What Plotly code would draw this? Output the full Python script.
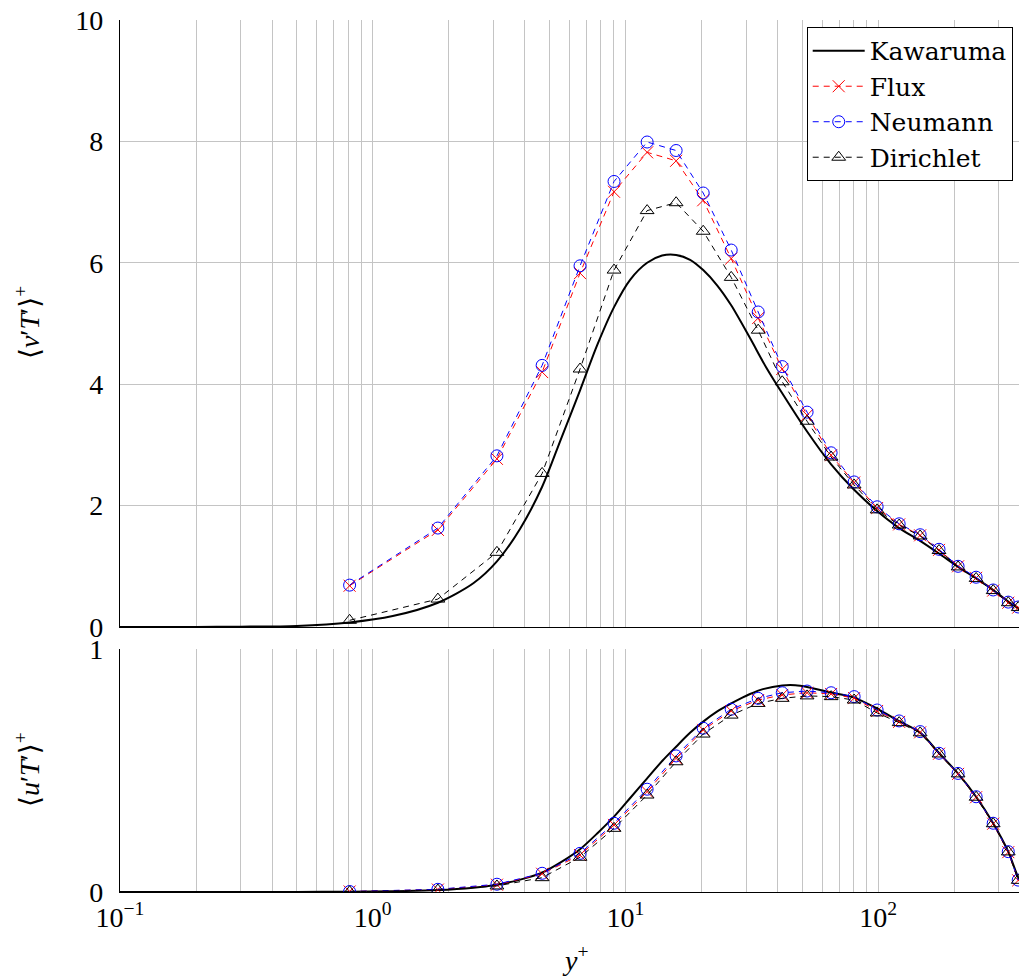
import plotly.graph_objects as go

# ---------------- data ----------------
# y+ of the simulation points
yplus = [0.81, 1.81, 3.10, 4.68, 6.61, 9.01, 12.18, 15.86, 20.3, 26.2, 33.5, 41.7,
         52.3, 65.1, 80.3, 99.0, 121, 146.5, 174, 207, 244, 285, 327, 358]

vT_flux = [0.68, 1.60, 2.77, 4.20, 5.83, 7.17, 7.82, 7.68, 7.03, 6.07, 5.09, 4.25,
           3.49, 2.83, 2.38, 1.96, 1.69, 1.51, 1.27, 1.00, 0.81, 0.60, 0.40, 0.32]
vT_neumann = [0.69, 1.63, 2.82, 4.31, 5.95, 7.34, 7.99, 7.85, 7.15, 6.21, 5.19, 4.29,
              3.54, 2.87, 2.39, 1.98, 1.70, 1.52, 1.28, 1.00, 0.82, 0.61, 0.41, 0.33]
vT_dirichlet = [0.11, 0.46, 1.23, 2.53, 4.25, 5.88, 6.86, 6.99, 6.52, 5.76, 4.89, 4.04,
                3.39, 2.80, 2.34, 1.93, 1.68, 1.50, 1.26, 0.99, 0.80, 0.60, 0.40, 0.32]

uT_flux = [0.002, 0.010, 0.030, 0.075, 0.152, 0.276, 0.413, 0.550, 0.667, 0.745, 0.790, 0.811,
           0.820, 0.815, 0.798, 0.745, 0.700, 0.657, 0.569, 0.486, 0.390, 0.281, 0.164, 0.048]
uT_neumann = [0.002, 0.011, 0.032, 0.077, 0.159, 0.283, 0.423, 0.560, 0.674, 0.752, 0.797, 0.820,
              0.827, 0.820, 0.804, 0.749, 0.704, 0.660, 0.571, 0.488, 0.392, 0.283, 0.166, 0.049]
uT_dirichlet = [0.001, 0.008, 0.025, 0.059, 0.143, 0.262, 0.399, 0.536, 0.650, 0.728, 0.776, 0.797,
                0.807, 0.804, 0.790, 0.737, 0.697, 0.655, 0.568, 0.486, 0.390, 0.281, 0.165, 0.048]

# Kawamura DNS reference (top panel)
kaw_v_yplus = [0.1, 0.2, 0.3, 0.5, 0.81, 1.2, 1.81, 2.5, 3.1, 3.83, 4.68, 5.56, 6.61, 7.72,
               9.01, 10.43, 12.18, 13.96, 15.86, 18.02, 20.3, 23.04, 26.2, 31.1, 36.0, 41.7,
               52.3, 65.1, 80.3, 99.0, 121, 146.5, 174, 207, 244, 285, 327, 362, 395]
kaw_vT = [0.0002, 0.0015, 0.005, 0.018, 0.075, 0.18, 0.40, 0.72, 1.08, 1.62, 2.31, 3.10, 3.90, 4.64,
          5.27, 5.72, 6.00, 6.12, 6.13, 6.05, 5.88, 5.63, 5.30, 4.76, 4.28, 3.85,
          3.22, 2.68, 2.26, 1.91, 1.63, 1.42, 1.21, 0.99, 0.80, 0.61, 0.42, 0.28, 0.0]

# Kawamura DNS reference (bottom panel)
kaw_u_yplus = [0.1, 0.2, 0.3, 0.5, 0.81, 1.2, 1.81, 2.5, 3.1, 3.8, 4.68, 5.6, 6.61, 7.8,
               9.01, 10.5, 12.18, 14.0, 15.86, 18.0, 20.3, 23.0, 26.2, 29.0, 31.1, 35.0,
               41.7, 47.0, 52.3, 65.1, 80.3, 99.0, 121, 146.5, 174, 207, 244, 285, 327, 362, 395]
kaw_uT = [0.0, 0.0001, 0.0002, 0.0005, 0.001, 0.003, 0.008, 0.018, 0.030, 0.050, 0.080, 0.125, 0.176, 0.245,
          0.310, 0.390, 0.468, 0.540, 0.598, 0.655, 0.701, 0.742, 0.776, 0.800, 0.815, 0.835,
          0.850, 0.851, 0.844, 0.821, 0.800, 0.755, 0.703, 0.656, 0.572, 0.487, 0.392, 0.283, 0.166, 0.050, 0.0]

x_tick_major = [0.1, 1, 10, 100]
x_tick_labels = ["10<sup>\u22121</sup>", "10<sup>0</sup>", "10<sup>1</sup>", "10<sup>2</sup>"]
top_yticks = [0, 2, 4, 6, 8, 10]
bot_yticks = [0, 1]

# ---------------- figure ----------------
FONT = "Liberation Serif, DejaVu Serif, serif"
LEGFONT = "DejaVu Serif, Liberation Serif, serif"
FS = 28

minor_vals = [k * d for d in x_tick_major for k in range(2, 10) if k * d < 400]

dash = "6px,5px"

def series(x, y, name, color, symbol, yaxis, xaxis, show):
    return go.Scatter(
        x=x, y=y, name=name, mode="lines+markers", xaxis=xaxis, yaxis=yaxis,
        line=dict(color=color, width=1, dash=dash),
        marker=dict(symbol=symbol, size=12, color=color, line=dict(color=color, width=1)),
        showlegend=show, legendgroup=name,
    )

fig = go.Figure()
for (ya, xa, show, kx, kv, fl, ne, di) in [
    ("y", "x", True, kaw_v_yplus, kaw_vT, vT_flux, vT_neumann, vT_dirichlet),
    ("y2", "x2", False, kaw_u_yplus, kaw_uT, uT_flux, uT_neumann, uT_dirichlet),
]:
    fig.add_trace(go.Scatter(x=kx, y=kv, name="Kawaruma", mode="lines",
                             line=dict(color="black", width=2, shape="spline", smoothing=0.8),
                             xaxis=xa, yaxis=ya, showlegend=show, legendgroup="Kawaruma"))
    fig.add_trace(series(yplus, fl, "Flux", "red", "x-thin-open", ya, xa, show))
    fig.add_trace(series(yplus, ne, "Neumann", "blue", "circle-open", ya, xa, show))
    fig.add_trace(series(yplus, di, "Dirichlet", "black", "triangle-up-open", ya, xa, show))

GRID = "#c4c4c4"
xrange = [-1, 2.557]
common_x = dict(type="log", range=xrange, tickmode="array",
                tickvals=x_tick_major, ticktext=x_tick_labels,
                showgrid=True, gridcolor=GRID, gridwidth=1,
                minor=dict(tickmode="array", tickvals=minor_vals, showgrid=True,
                           gridcolor=GRID, gridwidth=1, ticks=""),
                showline=True, linecolor="black", linewidth=1.3,
                ticks="", zeroline=False,
                tickfont=dict(family=FONT, size=FS, color="black"))
common_y = dict(showgrid=True, gridcolor=GRID, gridwidth=1,
                showline=True, linecolor="black", linewidth=1.3,
                ticks="", zeroline=False, ticklabelstandoff=10,
                tickfont=dict(family=FONT, size=FS, color="black"))

top_lo = (892 - 627) / 872
bot_hi = (892 - 649) / 872

fig.update_layout(
    width=1019, height=976,
    margin=dict(l=120, r=0, t=20, b=84),
    paper_bgcolor="white", plot_bgcolor="white",
    font=dict(family=FONT, size=FS, color="black"),
    xaxis=dict(**common_x, anchor="y", showticklabels=False, matches="x2"),
    xaxis2=dict(**common_x, anchor="y2"),
    yaxis=dict(**common_y, domain=[top_lo, 1], range=[0, 10], tickvals=top_yticks, anchor="x"),
    yaxis2=dict(**common_y, domain=[0, bot_hi], range=[0, 1], tickvals=bot_yticks, anchor="x2"),
    legend=dict(x=0.993, y=0.992, xanchor="right", yanchor="top",
                bgcolor="white", bordercolor="black", borderwidth=1,
                font=dict(family=LEGFONT, size=25, color="black"),
                itemwidth=52, tracegroupgap=0),
    showlegend=True,
)

fig.add_annotation(text="\u27e8<i>v</i>\u2032<i>T</i>\u2032\u27e9<sup>+</sup>", textangle=-90,
                   xref="paper", yref="paper", x=(27 - 120) / 899, y=(892 - 323) / 872,
                   xanchor="center", yanchor="middle", showarrow=False,
                   font=dict(family=FONT, size=FS, color="black"))
fig.add_annotation(text="\u27e8<i>u</i>\u2032<i>T</i>\u2032\u27e9<sup>+</sup>", textangle=-90,
                   xref="paper", yref="paper", x=(27 - 120) / 899, y=(892 - 770) / 872,
                   xanchor="center", yanchor="middle", showarrow=False,
                   font=dict(family=FONT, size=FS, color="black"))
fig.add_annotation(text="<i>y</i><sup>+</sup>",
                   xref="paper", yref="paper", x=(575 - 120) / 899, y=(892 - 958) / 872,
                   xanchor="center", yanchor="middle", showarrow=False,
                   font=dict(family=FONT, size=FS, color="black"))

fig.write_html("out.html")
